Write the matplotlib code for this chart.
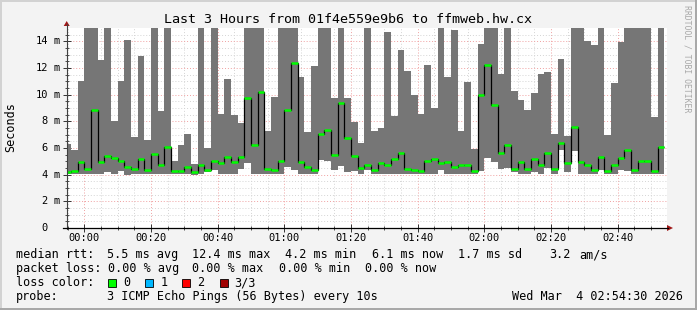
import numpy as np
import matplotlib.pyplot as plt
from matplotlib.patches import Rectangle, Polygon
from matplotlib.lines import Line2D

W, H = 697, 310

# smokeping steps of 2 minutes, minutes relative to 00:00
step_start = np.arange(-6, 174, 2)

# values in ms, 16 = above the top of the graph (clipped)
smoke_low = [4.05, 4.05, 4.05, 4.05, 4.05, 4.05, 4.18, 4.05, 4.25, 3.95, 4.05, 4.05, 4.05, 4.05, 4.05,
             4.05, 4.05, 4.05, 4.05, 3.95, 4.05, 4.18, 4.33, 4.05, 4.05, 4.05, 4.40, 4.85, 4.05, 4.05,
             4.05, 4.05, 4.05, 4.58, 4.38, 4.05, 4.05, 4.05, 5.13, 5.05, 4.33, 4.68, 4.18, 4.25, 4.05,
             4.33, 4.05, 4.05, 4.05, 4.05, 4.05, 4.05, 4.05, 4.05, 4.05, 4.05, 4.38, 4.05, 4.05, 4.05,
             4.05, 4.05, 4.25, 5.28, 4.93, 4.45, 4.50, 4.20, 4.05, 4.05, 4.20, 4.05, 4.50, 4.05, 5.83,
             4.18, 5.75, 4.05, 4.05, 4.05, 4.38, 4.05, 4.05, 4.38, 4.30, 4.05, 4.05, 4.05, 4.05, 4.05]
smoke_high = [6.33, 5.88, 11.0, 16, 16, 12.63, 16, 8.05, 11.05, 14.13, 6.8, 12.93, 6.63, 16, 8.75,
              16, 5.05, 6.25, 7.08, 4.83, 16, 6.0, 16, 8.58, 11.2, 8.5, 7.9, 16, 16, 16,
              7.25, 9.8, 16, 16, 16, 11.35, 7.18, 12.13, 16, 16, 9.73, 16, 9.73, 7.98, 6.35,
              16, 7.25, 7.5, 14.7, 8.43, 13.38, 11.78, 9.95, 8.58, 12.25, 9.03, 16, 11.35, 14.88, 7.25,
              10.98, 5.95, 13.83, 16, 16, 11.53, 16, 10.3, 9.63, 8.88, 10.15, 11.53, 11.73, 7.08, 12.7,
              6.93, 16, 16, 14.0, 13.7, 16, 6.95, 10.9, 13.95, 16, 16, 16, 16, 8.3, 16]
median_rtt = [4.2, 4.25, 4.93, 4.45, 8.88, 4.93, 5.43, 5.28, 5.0, 4.55, 4.45, 5.2, 4.38, 5.53, 4.75,
              6.1, 4.25, 4.25, 4.55, 4.2, 4.7, 4.38, 5.0, 4.85, 5.35, 4.93, 5.35, 9.73, 6.2, 10.23,
              4.45, 4.38, 5.0, 8.88, 12.4, 4.93, 4.55, 4.38, 7.03, 7.33, 5.5, 9.4, 6.73, 5.38, 4.48,
              4.75, 4.33, 4.85, 4.7, 5.2, 5.65, 4.4, 4.33, 4.25, 5.0, 5.15, 4.85, 4.93, 4.6, 4.75,
              4.7, 4.25, 9.95, 12.2, 9.2, 5.6, 6.2, 4.45, 4.93, 4.45, 5.15, 4.7, 5.6, 4.45, 6.35,
              4.85, 7.55, 4.93, 4.7, 4.38, 5.3, 4.3, 4.7, 5.23, 5.88, 4.33, 5.0, 5.0, 4.25, 6.1]

time_ticks = [0, 20, 40, 60, 80, 100, 120, 140, 160]
time_labels = ['00:00', '00:20', '00:40', '01:00', '01:20', '01:40', '02:00', '02:20', '02:40']
y_ticks = [0, 2, 4, 6, 8, 10, 12, 14]
y_labels = ['0', '2', '4', '6', '8', '10', '12', '14']

legend_rows = [
    [('median rtt:', 16), ('5.5 ms avg', 107), ('12.4 ms max', 192), ('4.2 ms min', 285),
     ('6.1 ms now', 372), ('1.7 ms sd', 458), ('3.2', 549), ('am/s', 579)],
    [('packet loss:', 16), ('0.00 % avg', 107.6), ('0.00 % max', 192.4), ('0.00 % min', 279),
     ('0.00 % now', 365)],
    [('loss color:', 16)],
    [('probe:', 16), ('3 ICMP Echo Pings (56 Bytes) every 10s', 106.7), ('Wed Mar  4 02:54:30 2026', 512.4)],
]
row_y = [254.5, 268.5, 282.5, 296.3]
loss_names = ['0', '1', '2', '3/3']
loss_colors = ['#00ff00', '#00b8ff', '#ff0000', '#a00000']
loss_box_x = [108, 145.3, 182.2, 219.6]

MONO = 'DejaVu Sans Mono'


def fx(px):
    return px / W


def fy(py):
    return 1 - py / H


fig = plt.figure(figsize=(W / 100, H / 100), dpi=100, facecolor='#f3f3f3')
ax = fig.add_axes([fx(66.7), fy(228), 600 / W, 200 / H])
ax.set_xlim(-5.3, 174.7)
ax.set_ylim(0, 15)
ax.set_facecolor('white')
for s in ax.spines.values():
    s.set_visible(False)

# grid, dotted like rrdtool
dots = (0, (1, 2))
for m in range(-5, 175, 5):
    if m % 20 == 0:
        ax.axvline(m, color='#f0a0a0', lw=0.7, ls=dots, zorder=1)
    else:
        ax.axvline(m, color='#d4d4d4', lw=0.7, ls=dots, zorder=1)
for v in np.arange(0.5, 15, 0.5):
    if v % 2 == 0:
        ax.axhline(v, color='#f0a0a0', lw=0.7, ls=dots, zorder=1)
    else:
        ax.axhline(v, color='#d4d4d4', lw=0.7, ls=dots, zorder=1)

# smoke
low = np.array(smoke_low)
high = np.array(smoke_high)
ax.bar(step_start, high - low, bottom=low, width=2, align='edge',
       color='#767676', linewidth=0, zorder=2)

# median line
edges = np.append(step_start, step_start[-1] + 2)
ax.stairs(median_rtt, edges, baseline=None, color='black', lw=0.9, zorder=3)
ax.hlines(median_rtt, edges[:-1], edges[1:], colors='#00ff00', lw=1.8,
          capstyle='butt', zorder=4)

# ticks
ax.set_xticks(time_ticks)
ax.set_xticks(range(-5, 175, 5), minor=True)
ax.set_yticks(y_ticks)
ax.set_yticks(np.arange(0, 15, 0.5), minor=True)
ax.tick_params(which='major', direction='inout', length=6, width=0.7, color='#333333',
               labelbottom=False, labelleft=False)
ax.tick_params(which='minor', direction='inout', length=3, width=0.6, color='#333333')

# axis lines and arrows
fig.add_artist(Line2D([fx(66.7), fx(66.7)], [fy(228.5), fy(24)], color='#404040', lw=0.8))
fig.add_artist(Line2D([fx(63), fx(668)], [fy(228), fy(228)], color='black', lw=0.9))
fig.add_artist(Polygon([[fx(63.7), fy(26)], [fx(69.7), fy(26)], [fx(66.7), fy(21)]],
                       closed=True, color='#a01818', lw=0))
fig.add_artist(Polygon([[fx(667), fy(225)], [fx(667), fy(231)], [fx(673), fy(228)]],
                       closed=True, color='#a01818', lw=0))

# tick labels
for t, lab in zip(time_ticks, time_labels):
    px = 66.7 + (t + 5.3) * 600 / 180
    fig.text(fx(px), fy(237.7), lab, ha='center', va='center', family=MONO, fontsize=7.5)
for v, lab in zip(y_ticks, y_labels):
    py = 228 - v * 200 / 15
    fig.text(fx(48), fy(py), lab, ha='right', va='center', family=MONO, fontsize=7.5)
    if v != 0:
        fig.text(fx(53.5), fy(py), 'm', ha='left', va='center', family=MONO, fontsize=7.5)

# titles
fig.text(0.5, fy(19.5), 'Last 3 Hours from 01f4e559e9b6 to ffmweb.hw.cx',
         ha='center', va='center', family=MONO, fontsize=9.6)
fig.text(fx(11), fy(127.5), 'Seconds', rotation=90, ha='center', va='center',
         family=MONO, fontsize=8.5)
fig.text(fx(687.5), fy(5), 'RRDTOOL / TOBI OETIKER', rotation=270, ha='center', va='top',
         family=MONO, fontsize=5.9, color='#a8a8a8')

# legend
for row, py in zip(legend_rows, row_y):
    for txt, px in row:
        fig.text(fx(px), fy(py), txt, ha='left', va='center', family=MONO, fontsize=8.5)
for name, col, bx in zip(loss_names, loss_colors, loss_box_x):
    fig.add_artist(Rectangle((fx(bx), fy(286.5)), 8 / W, 8 / H, facecolor=col,
                             edgecolor='black', lw=0.6))
    fig.text(fx(bx + 15), fy(282.5), name, ha='left', va='center', family=MONO, fontsize=8.5)

# frame
fig.add_artist(Rectangle((0, 0), 2 / W, 1, color='#d2d2d2', lw=0))
fig.add_artist(Rectangle((0, 1 - 2 / H), 1, 2 / H, color='#d2d2d2', lw=0))
fig.add_artist(Rectangle((1 - 2 / W, 0), 2 / W, 1, color='#a8a8a8', lw=0))
fig.add_artist(Rectangle((0, 0), 1, 2 / H, color='#a8a8a8', lw=0))

fig.savefig('out.png', dpi=100, facecolor=fig.get_facecolor())
